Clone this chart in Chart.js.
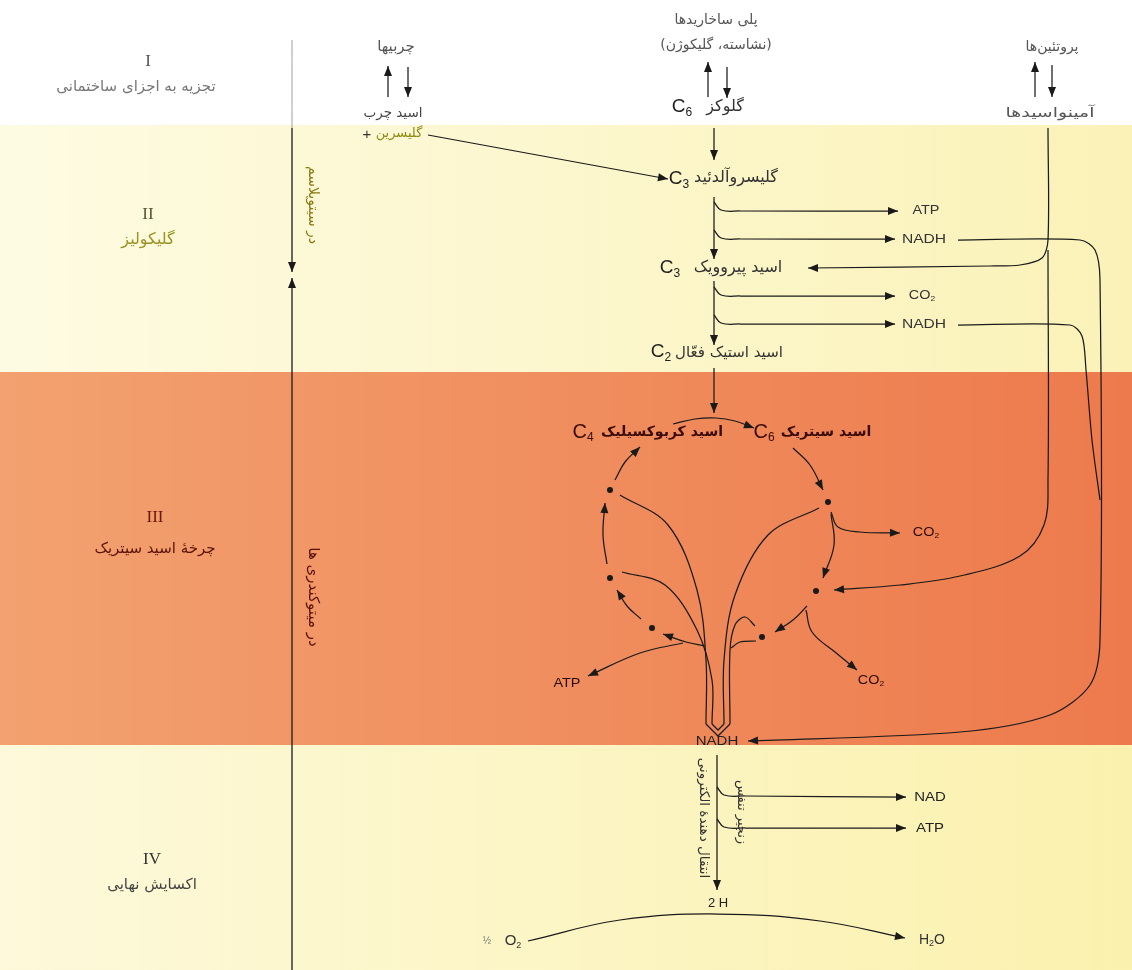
<!DOCTYPE html>
<html>
<head>
<meta charset="utf-8">
<script src="https://cdn.jsdelivr.net/npm/chart.js@4.4.1/dist/chart.umd.min.js"></script>
<style>
  html, body { margin: 0; padding: 0; background: #fff; overflow: hidden; }
  #view { width: 1132px; height: 970px; position: relative; overflow: hidden; }
  /* chart area is inset by the point overflow (3px), so shift the canvas to line it up */
  #wrap { width: 1138px; height: 976px; position: absolute; left: -3px; top: -3px; }
</style>
</head>
<body>
<div id="view"><div id="wrap"><canvas id="metabolismChart"></canvas></div></div>
<script>
// --- Diagram data (diagram units: 1132 wide, 970 tall, y grows downward) ---
const stageNums = ['I', 'II', 'III', 'IV'];
const stageNames = ['تجزیه به اجزای ساختمانی', 'گلیکولیز', 'چرخهٔ اسید سیتریک', 'اکسایش نهایی'];
const stageX = [136, 148, 155, 152];
const stageY = [62, 215, 518, 860];
const stageNumColors = ['#555', '#555533', '#6a1a0c', '#333'];
const stageNameColors = ['#777', '#9a9222', '#5a1208', '#444'];
const stageNameSizes = [15, 16, 15, 15];

const bandEdges = [0, 125, 372, 745, 970];
const bandColors = [
    ['#ffffff', '#ffffff'],
    ['#fdfbe2', '#fbf2b8'],
    ['#f3a170', '#ed7a4c'],
    ['#fdf9da', '#fbf1ae']
];

// dots on the citric acid cycle
const cycleDots = [[610, 490], [828, 502], [610, 578], [816, 591], [652, 628], [762, 637]];

// arrows / connector lines: points along each path, head = arrowhead at the end
const arrows = [
    // timeline on the left
    { pts: [[292, 40], [292, 128]], w: 0.8, c: '#888' },
    { pts: [[292, 128], [292, 272]], head: true, w: 1.3 },
    { pts: [[292, 970], [292, 278]], head: true, w: 1.3 },
    // top: breakdown to building blocks
    { pts: [[388, 97], [388, 66]], head: true },
    { pts: [[408, 67], [408, 97]], head: true },
    { pts: [[428, 135], [668, 179]], head: true },
    { pts: [[708, 97], [708, 62]], head: true },
    { pts: [[727, 67], [727, 98]], head: true },
    { pts: [[714, 128], [714, 160]], head: true },
    { pts: [[1035, 97], [1035, 62]], head: true },
    { pts: [[1052, 65], [1052, 97]], head: true },
    // glycolysis
    { pts: [[714, 197], [714, 259]], head: true, t: 0 },
    { pts: [[714, 202], [721, 210], [740, 211], [898, 211]], head: true },
    { pts: [[714, 230], [721, 238], [740, 239], [895, 239]], head: true },
    { pts: [[714, 281], [714, 345]], head: true, t: 0 },
    { pts: [[714, 287], [721, 295], [740, 296], [895, 296]], head: true },
    { pts: [[714, 315], [721, 323], [740, 324], [895, 324]], head: true },
    { pts: [[714, 368], [714, 413]], head: true, t: 0 },
    // amino acids -> pyruvic acid and -> cycle
    { pts: [[1048, 128], [1048, 240], [1042, 258], [1020, 265], [990, 266], [808, 268]], head: true, t: 0.3 },
    { pts: [[1048, 250], [1048, 480], [1044, 525], [1020, 556], [960, 576], [900, 585], [834, 590]], head: true, t: 0.35 },
    // NADH lines to the final NADH
    { pts: [[958, 240], [1080, 240], [1095, 250], [1100, 280], [1100, 640], [1090, 685], [1050, 715], [960, 732], [748, 741]], head: true, t: 0.3 },
    { pts: [[958, 325], [1070, 325], [1082, 336], [1086, 370], [1092, 440], [1100, 500]], t: 0.3 },
    // citric acid cycle
    { pts: [[673, 424], [695, 419], [716, 418], [735, 421], [754, 428]], head: true },
    { pts: [[793, 448], [810, 465], [823, 490]], head: true },
    { pts: [[831, 514], [834, 545], [823, 578]], head: true },
    { pts: [[807, 606], [793, 620], [775, 632]], head: true },
    { pts: [[705, 646], [686, 642], [663, 634]], head: true },
    { pts: [[641, 619], [627, 606], [617, 590]], head: true },
    { pts: [[607, 564], [603, 535], [605, 503]], head: true },
    { pts: [[615, 480], [625, 462], [640, 447]], head: true },
    { pts: [[683, 643], [640, 653], [588, 676]], head: true },
    { pts: [[831, 512], [838, 527], [860, 532], [900, 533]], head: true },
    { pts: [[806, 610], [812, 632], [835, 652], [857, 670]], head: true },
    // curves into the stem
    { pts: [[620, 495], [668, 525], [697, 590], [706, 660], [706, 724]], t: 0.35 },
    { pts: [[622, 572], [665, 585], [697, 630], [712, 680], [712, 724]], t: 0.35 },
    { pts: [[819, 508], [768, 535], [735, 595], [724, 660], [724, 724]], t: 0.35 },
    { pts: [[755, 626], [745, 617], [735, 625], [730, 650], [730, 724]], t: 0.35 },
    { pts: [[756, 641], [740, 642], [731, 648]], t: 0.3 },
    { pts: [[706, 724], [718, 736], [730, 724]], t: 0 },
    { pts: [[712, 724], [718, 730], [724, 724]], t: 0 },
    // final oxidation
    { pts: [[717, 755], [717, 890]], head: true, t: 0 },
    { pts: [[717, 787], [724, 795], [745, 796], [906, 797]], head: true },
    { pts: [[717, 819], [724, 827], [745, 828], [906, 828]], head: true },
    { pts: [[528, 941], [620, 920], [718, 914], [820, 921], [905, 938]], head: true }
];

// text labels; "_" marks a subscript character, sx stretches horizontally
const labels = [
    { x: 396, y: 47, t: 'چربیها', s: 15, c: '#555' },
    { x: 393, y: 113, t: 'اسید چرب', s: 13.5, c: '#444' },
    { x: 399, y: 134, t: 'گلیسرین', s: 13, c: '#8c8a12' },
    { x: 367, y: 135, t: '+', s: 15, c: '#333' },
    { x: 716, y: 20, t: 'پلی ساخاریدها', s: 14, c: '#555' },
    { x: 716, y: 45, t: '(نشاسته، گلیکوژن)', s: 14, c: '#555' },
    { x: 725, y: 107, t: 'گلوکز', s: 16, c: '#333' },
    { x: 682, y: 107, t: 'C_6', s: 19, c: '#222' },
    { x: 1052, y: 47, t: 'پروتئین‌ها', s: 14, c: '#555' },
    { x: 1050, y: 113, t: 'آمینواسیدها', s: 13.5, c: '#555', sx: 1.4 },
    // glycolysis
    { x: 736, y: 178, t: 'گلیسروآلدئید', s: 16, c: '#333' },
    { x: 679, y: 179, t: 'C_3', s: 19, c: '#222' },
    { x: 926, y: 211, t: 'ATP', s: 12, c: '#333', sx: 1.2 },
    { x: 924, y: 240, t: 'NADH', s: 12, c: '#333', sx: 1.3 },
    { x: 738, y: 268, t: 'اسید پیروویک', s: 16, c: '#333' },
    { x: 670, y: 268, t: 'C_3', s: 19, c: '#222' },
    { x: 922, y: 296, t: 'CO_2', s: 12, c: '#333', sx: 1.2 },
    { x: 924, y: 325, t: 'NADH', s: 12, c: '#333', sx: 1.3 },
    { x: 729, y: 353, t: 'اسید استیک فعّال', s: 15, c: '#333' },
    { x: 661, y: 352, t: 'C_2', s: 19, c: '#222' },
    // citric acid cycle
    { x: 662, y: 432, t: 'اسید کربوکسیلیک', s: 14, c: '#3a0a02', b: true },
    { x: 583, y: 432, t: 'C_4', s: 20, c: '#3a0a02' },
    { x: 826, y: 432, t: 'اسید سیتریک', s: 14, c: '#3a0a02', b: true },
    { x: 764, y: 432, t: 'C_6', s: 20, c: '#3a0a02' },
    { x: 926, y: 533, t: 'CO_2', s: 12, c: '#2a0a02', sx: 1.2 },
    { x: 567, y: 684, t: 'ATP', s: 12, c: '#2a0a02', sx: 1.2 },
    { x: 871, y: 681, t: 'CO_2', s: 12, c: '#2a0a02', sx: 1.2 },
    { x: 717, y: 742, t: 'NADH', s: 12, c: '#222', sx: 1.25 },
    // final oxidation
    { x: 930, y: 797, t: 'NAD', s: 13, c: '#222', sx: 1.15 },
    { x: 930, y: 828, t: 'ATP', s: 13, c: '#222', sx: 1.15 },
    { x: 718, y: 903, t: '2 H', s: 13, c: '#222' },
    { x: 487, y: 941, t: '½', s: 10, c: '#777' },
    { x: 513, y: 941, t: 'O_2', s: 15, c: '#333' },
    { x: 932, y: 940, t: 'H_2O', s: 14, c: '#333' },
    // rotated labels
    { x: 703, y: 818, t: 'انتقال دهندهٔ الکترونی', s: 13.5, c: '#333', rot: 90 },
    { x: 741, y: 812, t: 'زنجیر تنفس', s: 13, c: '#333', rot: 90 },
    { x: 313, y: 205, t: 'در سیتوپلاسم', s: 14, c: '#8a7a10', rot: 90 },
    { x: 313, y: 597, t: 'در میتوکندری ها', s: 15, c: '#5a1208', rot: 90 }
];

// --- Plugins ---
const bandPlugin = {
    id: 'bands',
    beforeDraw(chart) {
        const { ctx, scales: { x, y } } = chart;
        ctx.save();
        for (let i = 0; i < bandColors.length; i++) {
            const x0 = x.getPixelForValue(0), x1 = x.getPixelForValue(1132);
            const y0 = y.getPixelForValue(bandEdges[i]), y1 = y.getPixelForValue(bandEdges[i + 1]);
            const g = ctx.createLinearGradient(x0, 0, x1, 0);
            g.addColorStop(0, bandColors[i][0]);
            g.addColorStop(1, bandColors[i][1]);
            ctx.fillStyle = g;
            ctx.fillRect(x0, y0, x1 - x0, y1 - y0);
        }
        ctx.restore();
    }
};

const arrowPlugin = {
    id: 'arrowHeads',
    afterDatasetsDraw(chart) {
        const ctx = chart.ctx;
        chart.data.datasets.forEach((ds, i) => {
            if (!ds.arrowHead) return;
            const pts = chart.getDatasetMeta(i).data;
            const a = pts[pts.length - 2], b = pts[pts.length - 1];
            const ang = Math.atan2(b.y - a.y, b.x - a.x);
            const len = 10, half = 4;
            ctx.save();
            ctx.translate(b.x, b.y);
            ctx.rotate(ang);
            ctx.beginPath();
            ctx.moveTo(0, 0);
            ctx.lineTo(-len, -half);
            ctx.lineTo(-len, half);
            ctx.closePath();
            ctx.fillStyle = ds.borderColor;
            ctx.fill();
            ctx.restore();
        });
    }
};

const isPersian = s => /[\u0600-\u06FF]/.test(s);

function drawRich(ctx, text, size, bold) {
    // split into [piece, isSub]
    const parts = [];
    for (let i = 0; i < text.length; i++) {
        if (text[i] === '_' && i + 1 < text.length) { parts.push([text[i + 1], true]); i++; }
        else if (parts.length && !parts[parts.length - 1][1]) parts[parts.length - 1][0] += text[i];
        else parts.push([text[i], false]);
    }
    const fam = '"Liberation Sans", Arial, sans-serif';
    const w = parts.map(p => {
        ctx.font = (bold ? 'bold ' : '') + (p[1] ? Math.round(size * 0.62) : size) + 'px ' + fam;
        return ctx.measureText(p[0]).width;
    });
    let cx = -w.reduce((s, v) => s + v, 0) / 2;
    ctx.textAlign = 'left';
    parts.forEach((p, k) => {
        ctx.font = (bold ? 'bold ' : '') + (p[1] ? Math.round(size * 0.62) : size) + 'px ' + fam;
        ctx.fillText(p[0], cx, p[1] ? size * 0.28 : 0);
        cx += w[k];
    });
}

const textPlugin = {
    id: 'texts',
    afterDatasetsDraw(chart) {
        const { ctx, scales: { x, y } } = chart;
        const all = labels.slice();
        stageNums.forEach((n, i) => {
            all.push({ x: stageX[i] + (i === 0 ? 12 : 0), y: stageY[i], t: n, s: 17, c: stageNumColors[i], serif: true });
            all.push({ x: stageX[i], y: stageY[i] + (i === 2 ? 31 : 25), t: stageNames[i], s: stageNameSizes[i], c: stageNameColors[i] });
        });
        all.forEach(l => {
            ctx.save();
            ctx.translate(x.getPixelForValue(l.x), y.getPixelForValue(l.y));
            if (l.rot) ctx.rotate(l.rot * Math.PI / 180);
            if (l.sx) ctx.scale(l.sx, 1);
            ctx.fillStyle = l.c;
            ctx.textBaseline = 'middle';
            if (isPersian(l.t)) {
                ctx.direction = 'rtl';
                ctx.textAlign = 'center';
                ctx.font = (l.b ? 'bold ' : '') + l.s + 'px "DejaVu Sans", sans-serif';
                ctx.fillText(l.t, 0, 0);
            } else if (l.serif) {
                ctx.textAlign = 'center';
                ctx.font = l.s + 'px "Liberation Serif", "DejaVu Serif", serif';
                ctx.fillText(l.t, 0, 0);
            } else {
                drawRich(ctx, l.t, l.s, l.b);
            }
            ctx.restore();
        });
    }
};

// --- Chart Config ---
const datasets = arrows.map(a => ({
    data: a.pts.map(p => ({ x: p[0], y: p[1] })),
    showLine: true,
    borderColor: a.c || '#1a1a1a',
    borderWidth: a.w || 1.25,
    pointRadius: 0,
    pointHoverRadius: 0,
    pointBorderWidth: 0,
    tension: a.t === undefined ? 0.4 : a.t,
    fill: false,
    arrowHead: !!a.head
}));
datasets.push({
    data: cycleDots.map(p => ({ x: p[0], y: p[1] })),
    showLine: false,
    pointRadius: 3,
    pointHoverRadius: 0,
    pointBackgroundColor: '#1a1a1a',
    pointBorderWidth: 0
});

const ctx = document.getElementById('metabolismChart').getContext('2d');
new Chart(ctx, {
    type: 'scatter',
    data: { datasets },
    options: {
        responsive: true,
        maintainAspectRatio: false,
        animation: false,
        events: [],
        layout: { padding: 0 },
        plugins: { legend: { display: false }, tooltip: { enabled: false } },
        scales: {
            x: { type: 'linear', min: 0, max: 1132, display: false },
            y: { type: 'linear', min: 0, max: 970, reverse: true, display: false }
        }
    },
    plugins: [bandPlugin, arrowPlugin, textPlugin]
});
</script>
</body>
</html>
